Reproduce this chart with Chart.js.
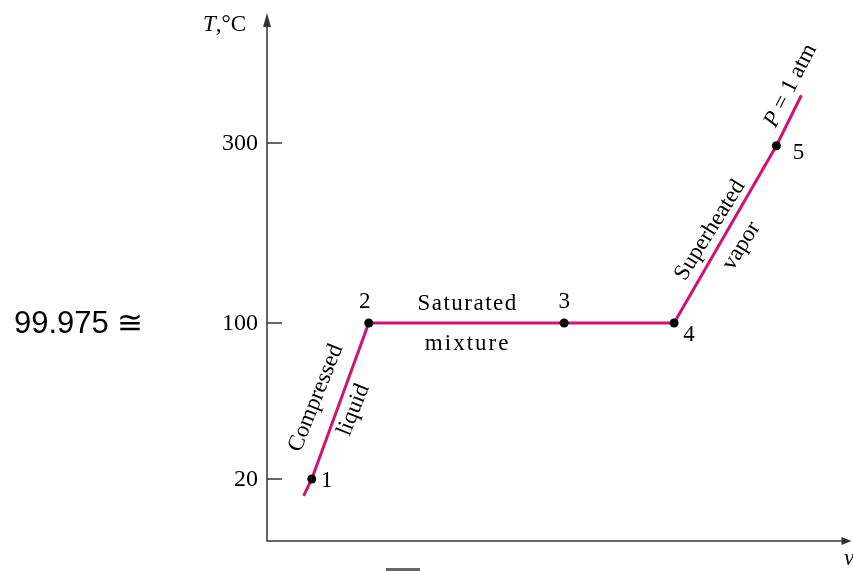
<!DOCTYPE html>
<html>
<head>
<meta charset="utf-8">
<script src="https://cdn.jsdelivr.net/npm/chart.js@4.4.0/dist/chart.umd.min.js"></script>
<style>
  html, body { margin: 0; padding: 0; background: #fff; }
  #wrap { width: 853px; height: 571px; }
</style>
</head>
<body>
<div id="wrap"><canvas id="tvChart" width="853" height="571"></canvas></div>
<script>
// states on the T-v diagram (v is schematic, 0..100)
const stateNames = ['1', '2', '3', '4', '5'];
const stateV = [7.7, 17.5, 51.1, 70.0, 87.6];
const stateT = [20, 100, 100, 100, 297];

// the P = 1 atm curve
const curveV = [6.3, 7.7, 17.5, 51.1, 70.0, 87.6, 91.9];
const curveT = [11.3, 20, 100, 100, 100, 297, 353];

const tempTicks = [20, 100, 300];

// the T axis is not linear: knots of the broken scale
const axisKnotsT = [-12, 20, 100, 300, 442];
const axisKnotsF = [0, 62 / 526, 218 / 526, 398 / 526, 1];

// region text: [text, v, T, angle deg, letterSpacing]
const regionText = [
  ['Compressed', 8.4, 61.5, -68, 0],
  ['liquid', 14.9, 55.4, -68, 0],
  ['Saturated', 34.5, 121, 0, 1.5],
  ['mixture', 34.5, 89.2, 0, 2],
  ['Superheated', 76.2, 203, -58, 0],
  ['vapor', 81.6, 185.6, -58, 0]
];

// label offsets from each state point (px)
const nameOffsetX = [15, -4, 0, 15, 22];
const nameOffsetY = [2, -21, -21, 12, 7];

const lineColor = '#d2126e';
const axisColor = '#333';
const serif = '"Liberation Serif", "DejaVu Serif", serif';

function tempToDecimal(t) {
  let i = 0;
  while (i < axisKnotsT.length - 2 && t > axisKnotsT[i + 1]) i++;
  const t0 = axisKnotsT[i], t1 = axisKnotsT[i + 1];
  const f0 = axisKnotsF[i], f1 = axisKnotsF[i + 1];
  return f0 + (t - t0) / (t1 - t0) * (f1 - f0);
}

function decimalToTemp(f) {
  let i = 0;
  while (i < axisKnotsF.length - 2 && f > axisKnotsF[i + 1]) i++;
  const t0 = axisKnotsT[i], t1 = axisKnotsT[i + 1];
  const f0 = axisKnotsF[i], f1 = axisKnotsF[i + 1];
  return t0 + (f - f0) / (f1 - f0) * (t1 - t0);
}

class BrokenTempScale extends Chart.LinearScale {
  getPixelForValue(value) {
    return this.getPixelForDecimal(tempToDecimal(value));
  }
  getValueForPixel(pixel) {
    return decimalToTemp(this.getDecimalForPixel(pixel));
  }
}
BrokenTempScale.id = 'brokenTemp';
BrokenTempScale.defaults = Chart.LinearScale.defaults;
Chart.register(BrokenTempScale);

const decorations = {
  id: 'decorations',
  afterDatasetsDraw(chart) {
    const ctx = chart.ctx;
    const area = chart.chartArea;
    const xs = chart.scales.x;
    const ys = chart.scales.y;
    ctx.save();

    // axes
    ctx.strokeStyle = axisColor;
    ctx.fillStyle = axisColor;
    ctx.lineWidth = 1.5;
    ctx.beginPath();
    ctx.moveTo(area.left, area.top + 4);
    ctx.lineTo(area.left, area.bottom);
    ctx.lineTo(area.right - 4, area.bottom);
    ctx.stroke();
    ctx.beginPath();
    ctx.moveTo(area.left, area.top - 2);
    ctx.lineTo(area.left - 4, area.top + 12);
    ctx.lineTo(area.left + 4, area.top + 12);
    ctx.closePath();
    ctx.fill();
    ctx.beginPath();
    ctx.moveTo(area.right + 3, area.bottom);
    ctx.lineTo(area.right - 7, area.bottom - 4);
    ctx.lineTo(area.right - 7, area.bottom + 4);
    ctx.closePath();
    ctx.fill();

    // ticks + labels
    ctx.font = '24px ' + serif;
    ctx.fillStyle = '#000';
    ctx.textAlign = 'right';
    ctx.textBaseline = 'middle';
    tempTicks.forEach(t => {
      const y = ys.getPixelForValue(t);
      ctx.beginPath();
      ctx.moveTo(area.left, y);
      ctx.lineTo(area.left + 15, y);
      ctx.stroke();
      ctx.fillText(String(t), area.left - 9, y + 1);
    });

    // axis titles
    ctx.textAlign = 'left';
    ctx.font = 'italic 23px ' + serif;
    ctx.fillText('T', 203, 25);
    const tw = ctx.measureText('T').width;
    ctx.font = '23px ' + serif;
    ctx.fillText(',°C', 203 + tw, 25);
    ctx.font = 'italic 23px ' + serif;
    ctx.textAlign = 'center';
    ctx.fillText('v', 849, 559);

    // approx. value on the left
    ctx.font = '31px "Liberation Sans", Arial, sans-serif';
    ctx.textAlign = 'left';
    ctx.fillText('99.975 \u2245', 14, ys.getPixelForValue(100) + 1);

    // state numbers
    ctx.font = '23px ' + serif;
    ctx.textAlign = 'center';
    stateNames.forEach((n, i) => {
      const x = xs.getPixelForValue(stateV[i]) + nameOffsetX[i];
      const y = ys.getPixelForValue(stateT[i]) + nameOffsetY[i];
      ctx.fillText(n, x, y);
    });

    // region words
    regionText.forEach(([txt, v, t, ang, ls]) => {
      ctx.save();
      ctx.translate(xs.getPixelForValue(v), ys.getPixelForValue(t));
      ctx.rotate(ang * Math.PI / 180);
      ctx.letterSpacing = ls + 'px';
      ctx.fillText(txt, 0, 0);
      ctx.restore();
    });

    // P = 1 atm along the curve
    ctx.save();
    ctx.translate(xs.getPixelForValue(90.0), ys.getPixelForValue(363));
    ctx.rotate(-63 * Math.PI / 180);
    ctx.textAlign = 'left';
    const full = 'P = 1 atm';
    ctx.font = '23px ' + serif;
    const fw = ctx.measureText(full).width;
    ctx.font = 'italic 23px ' + serif;
    ctx.fillText('P', -fw / 2, 0);
    const pw = ctx.measureText('P').width;
    ctx.font = '23px ' + serif;
    ctx.fillText(' = 1 atm', -fw / 2 + pw, 0);
    ctx.restore();

    // cut caption edge at the bottom
    ctx.fillStyle = '#666';
    ctx.fillRect(386, 568, 34, 3);

    ctx.restore();
  }
};

function toPoints(vs, ts) {
  return vs.map((v, i) => ({ x: v, y: ts[i] }));
}

const chart = new Chart(document.getElementById('tvChart'), {
  type: 'line',
  data: {
    datasets: [
      {
        label: 'states',
        data: toPoints(stateV, stateT),
        showLine: false,
        pointRadius: 4.5,
        pointBackgroundColor: '#000',
        pointBorderColor: '#000',
        pointBorderWidth: 0
      },
      {
        label: 'P = 1 atm',
        data: toPoints(curveV, curveT),
        borderColor: lineColor,
        borderWidth: 3,
        pointRadius: 0,
        tension: 0,
        fill: false
      }
    ]
  },
  options: {
    responsive: false,
    devicePixelRatio: 1,
    animation: false,
    layout: { padding: { left: 267, right: 3, top: 15, bottom: 30 } },
    plugins: { legend: { display: false }, tooltip: { enabled: false } },
    scales: {
      x: { type: 'linear', min: 0, max: 100, display: false },
      y: { type: 'brokenTemp', min: -12, max: 442, display: false }
    }
  },
  plugins: [decorations]
});
</script>
</body>
</html>
